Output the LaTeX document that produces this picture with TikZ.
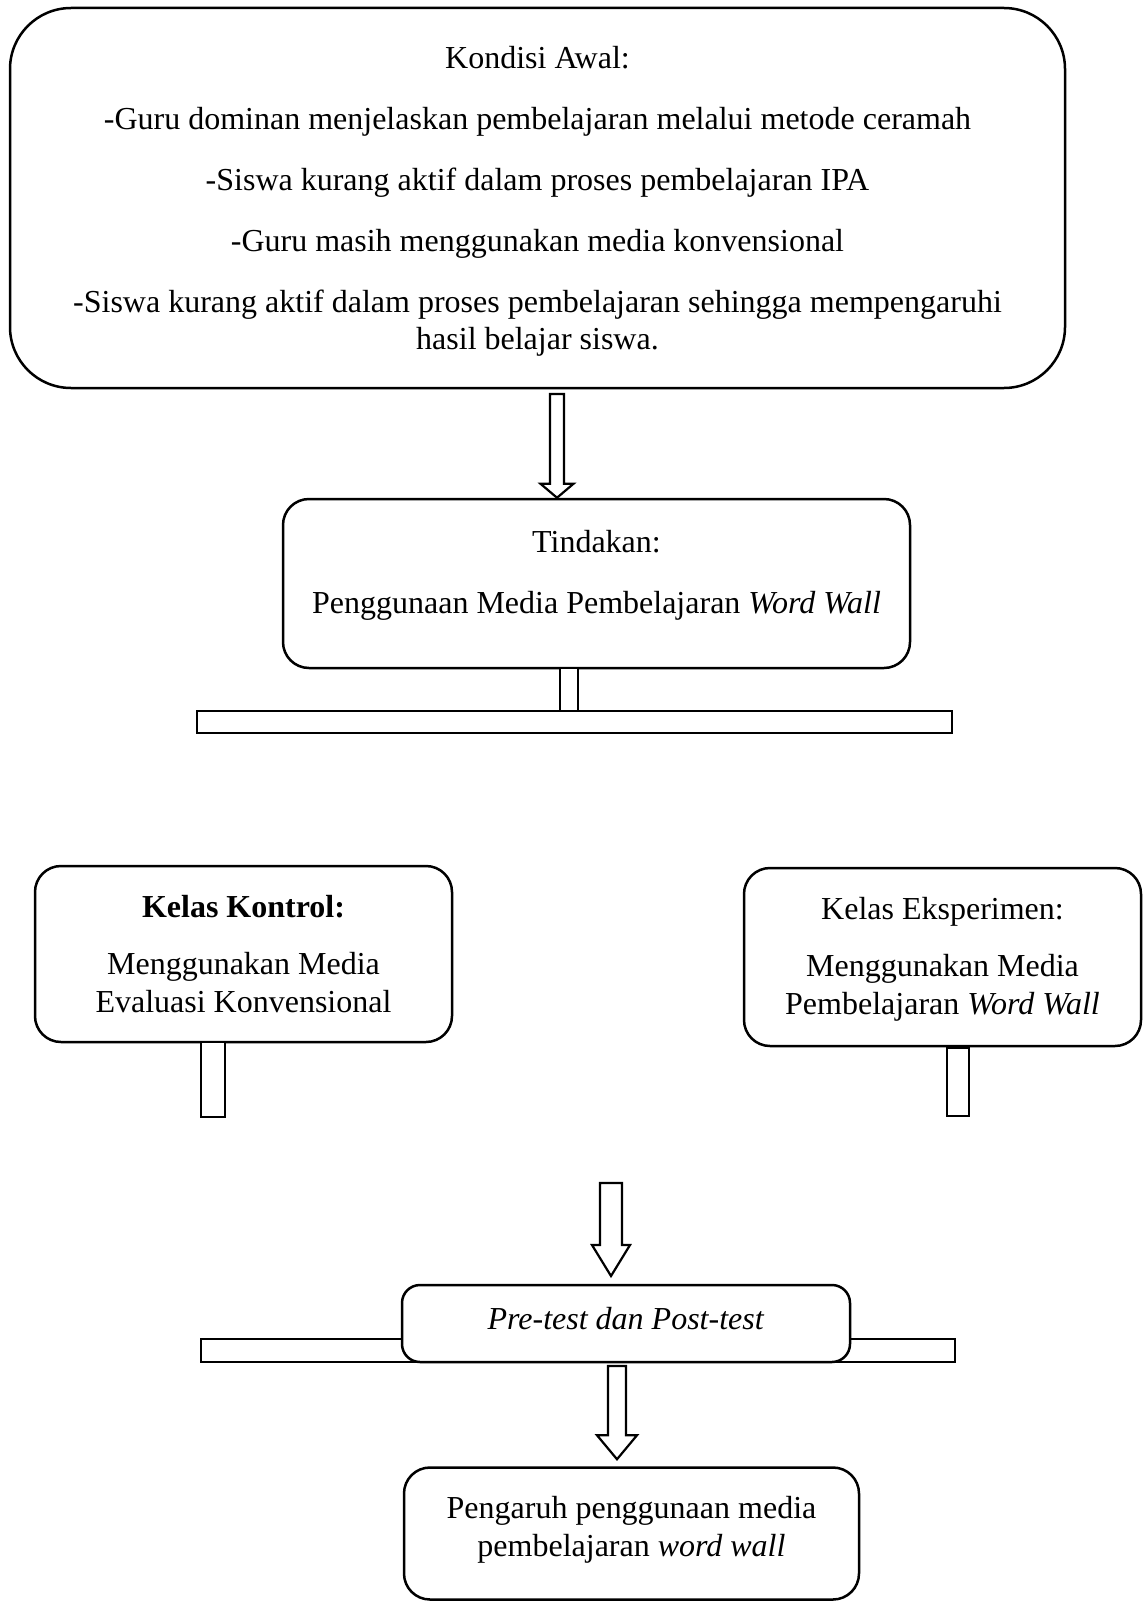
\documentclass[tikz,border=0pt]{standalone}
\usepackage{fontspec}
\setmainfont{Liberation Serif}
\usetikzlibrary{calc}

% hollow block arrow: tail, tip, shaft half width, head half width, head length
\newcommand{\blockarr}[5]{%
  \draw[blk] ($(#1)+(-#3,0)$) -- ($(#2)+(-#3,-#5)$) -- ($(#2)+(-#4,-#5)$) -- (#2)
    -- ($(#2)+(#4,-#5)$) -- ($(#2)+(#3,-#5)$) -- ($(#1)+(#3,0)$) -- cycle;}

\begin{document}
\begin{tikzpicture}
[
	x=1pt,y=-1pt,
	bx/.style={rectangle,draw,line width=2.5,rounded corners=26pt,align=center,fill=white,inner sep=0pt},
	br/.style={rectangle,draw,line width=2.2,fill=white},
	blk/.style={draw,line width=2.2,fill=white,line join=miter},
	font=\fontsize{32}{37.5}\selectfont
]
\useasboundingbox (0,0) rectangle (1144,1603);

\node[bx,rounded corners=61pt,minimum width=1055pt,minimum height=380pt,text depth=-3pt] (awal) at (537.5,198)
	{Kondisi Awal:\\[23.5pt]
	-Guru dominan menjelaskan pembelajaran melalui metode ceramah\\[23.5pt]
	-Siswa kurang aktif dalam proses pembelajaran IPA\\[23.5pt]
	-Guru masih menggunakan media konvensional\\[23.5pt]
	-Siswa kurang aktif dalam proses pembelajaran sehingga mempengaruhi\\
	hasil belajar siswa.};

\node[bx,minimum width=627pt,minimum height=169pt,text depth=24pt] (tind) at (596.5,583.5)
	{Tindakan:\\[23.5pt] Penggunaan Media Pembelajaran \textit{Word Wall}};

\coordinate (a1) at (557,394);
\blockarr{a1}{a1 |- tind.north}{7}{16.5}{14}

% stub and bar under Tindakan
\draw[br] (560,668) rectangle (578,711);
\draw[br] (197,711) rectangle (952,733);

\node[bx,minimum width=417pt,minimum height=176pt] (kontrol) at (243.5,954)
	{\fontsize{32}{40}\selectfont\textbf{Kelas Kontrol:}\\[20pt] Menggunakan Media\\ Evaluasi Konvensional};
\node[bx,minimum width=397pt,minimum height=178pt,text depth=3pt] (eksp) at (942.5,957)
	{\fontsize{32}{40}\selectfont Kelas Eksperimen:\\[20pt] Menggunakan Media\\ Pembelajaran \textit{Word Wall}};

\draw[br] (201,1042) rectangle (225,1117);
\draw[br] (947,1048) rectangle (969,1116);

\coordinate (a3) at (611,1183);
\coordinate (t3) at (611,1276);
\blockarr{a3}{t3}{11}{19}{31}

\draw[br] (201,1339) rectangle (955,1362);
\node[bx,minimum width=448pt,minimum height=77pt,rounded corners=18pt,text depth=11pt] (tes) at (626,1323.5)
	{\textit{Pre-test dan Post-test}};

\node[bx,minimum width=455pt,minimum height=132pt,text depth=14pt] (hasil) at (631.5,1533.5)
	{\fontsize{32}{41}\selectfont Pengaruh penggunaan media\\ pembelajaran \textit{word wall}};

\coordinate (a4) at (617,1366);
\coordinate (t4) at ($(a4 |- hasil.north)+(0,-7)$);
\blockarr{a4}{t4}{9}{20}{24}

\end{tikzpicture}
\end{document}
